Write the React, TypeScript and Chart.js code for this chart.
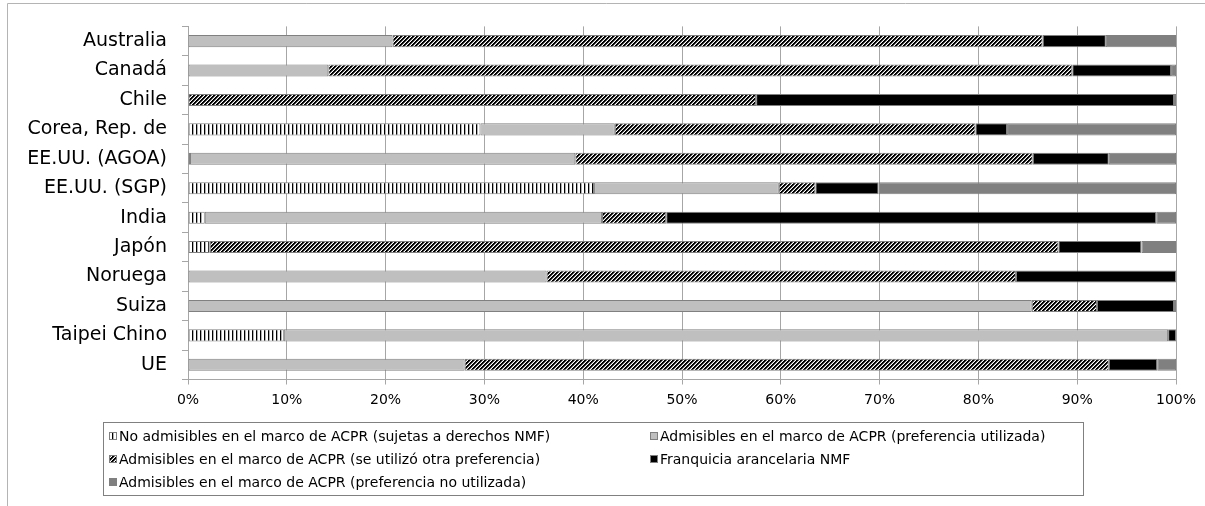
import React, { useEffect, useRef } from 'react';
import { Chart, registerables } from 'chart.js';

Chart.register(...registerables);

const categories = [
  'Australia',
  'Canadá',
  'Chile',
  'Corea, Rep. de',
  'EE.UU. (AGOA)',
  'EE.UU. (SGP)',
  'India',
  'Japón',
  'Noruega',
  'Suiza',
  'Taipei Chino',
  'UE',
];

const seriesLabels = [
  'No admisibles en el marco de ACPR (sujetas a derechos NMF)',
  'Admisibles en el marco de ACPR (preferencia utilizada)',
  'Admisibles en el marco de ACPR (se utilizó otra preferencia)',
  'Franquicia arancelaria NMF',
  'Admisibles en el marco de ACPR (preferencia no utilizada)',
];

const noAdmisibles = [0, 0, 0, 29.6, 0.2, 41.1, 1.7, 2.2, 0, 0, 9.7, 0];
const prefUtilizada = [20.7, 14.2, 0, 13.6, 39.0, 18.7, 40.2, 0, 36.3, 85.4, 89.5, 28.0];
const otraPreferencia = [65.8, 75.3, 57.5, 36.5, 46.3, 3.7, 6.5, 85.9, 47.5, 6.6, 0, 65.2];
const franquiciaNMF = [6.4, 10.0, 42.3, 3.2, 7.7, 6.4, 49.6, 8.4, 16.2, 7.8, 0.8, 4.9];
const prefNoUtilizada = [7.1, 0.5, 0.2, 17.1, 6.8, 30.1, 2.0, 3.5, 0, 0.2, 0, 1.9];

const xTickValues = [0, 10, 20, 30, 40, 50, 60, 70, 80, 90, 100];

const FONT = '"DejaVu Sans", Verdana, sans-serif';

function makePattern(kind: 'vert' | 'diag'): CanvasPattern | string {
  const c = document.createElement('canvas');
  c.width = 4;
  c.height = 4;
  const g = c.getContext('2d');
  if (!g) return '#888';
  g.fillStyle = '#ffffff';
  g.fillRect(0, 0, 4, 4);
  if (kind === 'vert') {
    g.fillStyle = '#000000';
    g.fillRect(0, 0, 1, 4);
    g.fillStyle = '#b0b0b0';
    g.fillRect(1, 0, 1, 4);
  } else {
    for (let y = 0; y < 4; y++) {
      for (let x = 0; x < 4; x++) {
        const k = (x + y) % 4;
        if (k < 2) {
          g.fillStyle = '#000000';
          g.fillRect(x, y, 1, 1);
        } else if (k === 2) {
          g.fillStyle = '#7a7a7a';
          g.fillRect(x, y, 1, 1);
        }
      }
    }
  }
  return g.createPattern(c, 'repeat') || '#888';
}

const boxLegendPlugin = {
  id: 'boxLegend',
  afterDraw(chart: any) {
    const ctx: CanvasRenderingContext2D = chart.ctx;
    ctx.save();
    // outer frame
    ctx.strokeStyle = '#b4b4b4';
    ctx.lineWidth = 1;
    ctx.beginPath();
    ctx.moveTo(7.5, 506);
    ctx.lineTo(7.5, 3.5);
    ctx.lineTo(1205, 3.5);
    ctx.stroke();
    // legend box
    ctx.strokeStyle = '#808080';
    ctx.strokeRect(103.5, 422.5, 980, 73);
    const cols = [109, 650];
    const rows = [436, 459, 482];
    ctx.font = '14px ' + FONT;
    ctx.textBaseline = 'middle';
    ctx.textAlign = 'left';
    chart.data.datasets.forEach((ds: any, i: number) => {
      const x = cols[i % 2];
      const y = rows[Math.floor(i / 2)];
      ctx.fillStyle = ds.backgroundColor;
      ctx.fillRect(x, y - 4, 8, 8);
      ctx.strokeStyle = '#808080';
      ctx.strokeRect(x + 0.5, y - 3.5, 7, 7);
      ctx.fillStyle = '#000000';
      ctx.fillText(ds.label, x + 10, y + 1);
    });
    ctx.restore();
  },
};

export default function App() {
  const canvasRef = useRef<HTMLCanvasElement | null>(null);

  useEffect(() => {
    if (!canvasRef.current) return;
    const vert = makePattern('vert');
    const diag = makePattern('diag');
    const fills: any[] = [vert, '#bfbfbf', diag, '#000000', '#808080'];
    const values = [noAdmisibles, prefUtilizada, otraPreferencia, franquiciaNMF, prefNoUtilizada];

    const chart = new Chart(canvasRef.current, {
      type: 'bar',
      data: {
        labels: categories,
        datasets: values.map((v, i) => ({
          label: seriesLabels[i],
          data: v,
          backgroundColor: fills[i],
          borderColor: '#808080',
          borderWidth: 1,
          borderSkipped: false,
          barPercentage: 0.41,
          categoryPercentage: 1,
        })),
      },
      options: {
        indexAxis: 'y',
        responsive: false,
        animation: false,
        devicePixelRatio: 1,
        layout: { padding: { left: 0, right: 29, top: 19.5, bottom: 0 } },
        plugins: {
          legend: { display: false },
          tooltip: { enabled: false },
        },
        scales: {
          x: {
            stacked: true,
            min: 0,
            max: 100,
            afterBuildTicks: (scale: any) => {
              scale.ticks = xTickValues.map((v) => ({ value: v }));
            },
            afterFit: (scale: any) => {
              scale.height = 126.5;
            },
            ticks: {
              callback: (v: any) => v + '%',
              color: '#000000',
              font: { family: FONT, size: 14 },
              padding: 7,
              maxRotation: 0,
            },
            grid: {
              color: '#a6a6a6',
              lineWidth: 1,
              tickLength: 5,
            },
            border: { display: true, color: '#a6a6a6' },
          },
          y: {
            stacked: true,
            afterFit: (scale: any) => {
              scale.width = 188;
            },
            ticks: {
              color: '#000000',
              font: { family: FONT, size: 19 },
              padding: 15,
            },
            grid: {
              drawOnChartArea: false,
              drawTicks: true,
              tickLength: 6,
              color: '#a6a6a6',
              offset: true,
            },
            border: { display: true, color: '#a6a6a6' },
          },
        },
      },
      plugins: [boxLegendPlugin],
    } as any);

    return () => chart.destroy();
  }, []);

  return (
    <div style={{ position: 'absolute', left: 0, top: 0, width: 1205, height: 506, background: '#ffffff' }}>
      <canvas ref={canvasRef} width={1205} height={506} style={{ display: 'block' }} />
    </div>
  );
}
